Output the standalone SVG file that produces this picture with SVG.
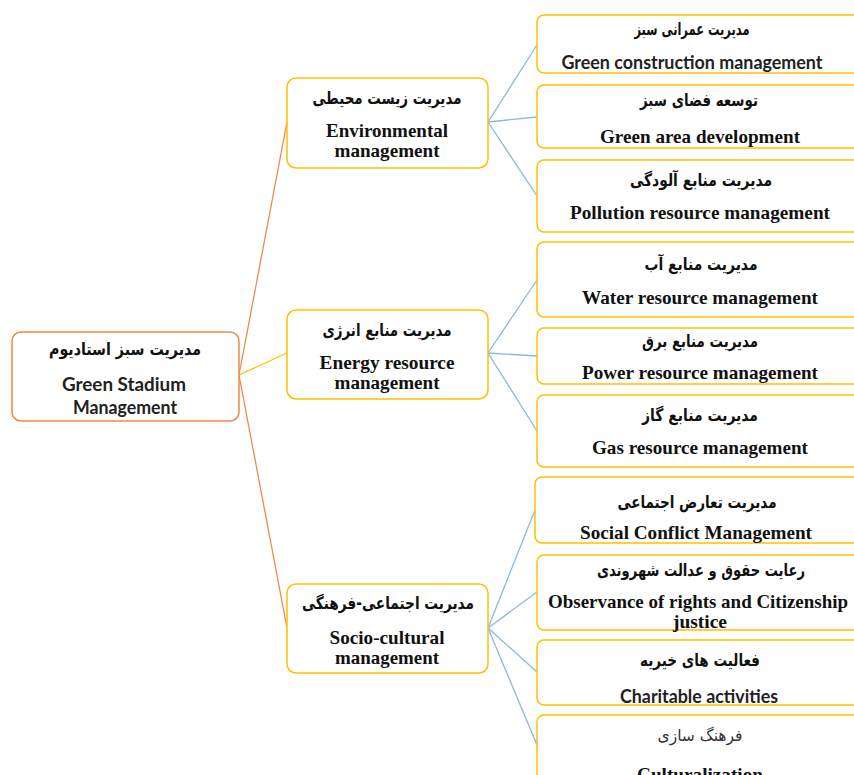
<svg xmlns="http://www.w3.org/2000/svg" width="854" height="775" viewBox="0 0 854 775">
<style>
.bg{fill:#ffffff}
.root{fill:#fff;stroke:#F08A4B;stroke-width:1.5}
.box{fill:#fff;stroke:#FFC000;stroke-width:1.5}
.fa{font-family:"DejaVu Sans",sans-serif;font-weight:bold;font-size:17px;fill:#111;text-anchor:middle}
.fa2{font-family:"DejaVu Sans",sans-serif;font-weight:normal;font-size:16px;fill:#333;text-anchor:middle}
.en{font-family:"Liberation Serif",serif;font-weight:bold;font-size:19px;fill:#111;text-anchor:middle}
.cb{font-family:Lato,"Liberation Sans",sans-serif;font-weight:bold;font-size:18px;fill:#222;text-anchor:middle}
.co{stroke:#F08A4B;stroke-width:1.3;fill:none}
.cy{stroke:#FFC000;stroke-width:1.3;fill:none}
.cbl{stroke:#8DB8E2;stroke-width:1.3;fill:none}
</style>
<rect class="bg" x="0" y="0" width="854" height="775"/>
<g id="connectors">
<line class="co" x1="239" y1="375" x2="287" y2="122"/>
<line class="cy" x1="239" y1="375" x2="287" y2="353"/>
<line class="co" x1="239" y1="375" x2="287" y2="628"/>
<line class="cbl" x1="488" y1="122" x2="537" y2="45"/>
<line class="cbl" x1="488" y1="122" x2="537" y2="117"/>
<line class="cbl" x1="488" y1="122" x2="537" y2="196"/>
<line class="cbl" x1="488" y1="353" x2="537" y2="280"/>
<line class="cbl" x1="488" y1="353" x2="537" y2="356"/>
<line class="cbl" x1="488" y1="353" x2="537" y2="431"/>
<line class="cbl" x1="488" y1="628" x2="535" y2="510"/>
<line class="cbl" x1="488" y1="628" x2="537" y2="592"/>
<line class="cbl" x1="488" y1="628" x2="537" y2="672"/>
<line class="cbl" x1="488" y1="628" x2="537" y2="745"/>
</g>
<g id="root">
<rect class="root" x="12" y="332" width="227" height="89" rx="9"/>
<text class="fa" x="125" y="355" textLength="152" lengthAdjust="spacingAndGlyphs">مدیریت سبز استادیوم</text>
<text class="cb" x="124" y="391" textLength="124" lengthAdjust="spacingAndGlyphs">Green Stadium</text>
<text class="cb" x="125" y="414" textLength="104" lengthAdjust="spacingAndGlyphs">Management</text>
</g>
<g id="env">
<rect class="box" x="287" y="78" width="201" height="90" rx="9"/>
<text class="fa" x="387" y="104" textLength="149" lengthAdjust="spacingAndGlyphs">مدیریت زیست محیطی</text>
<text class="en" x="387" y="137" textLength="122" lengthAdjust="spacingAndGlyphs">Environmental</text>
<text class="en" x="387" y="157" textLength="105" lengthAdjust="spacingAndGlyphs">management</text>
</g>
<g id="energy">
<rect class="box" x="287" y="310" width="201" height="89" rx="9"/>
<text class="fa" x="387" y="336" textLength="129" lengthAdjust="spacingAndGlyphs">مدیریت منابع انرژی</text>
<text class="en" x="387" y="369" textLength="135" lengthAdjust="spacingAndGlyphs">Energy resource</text>
<text class="en" x="387" y="389" textLength="105" lengthAdjust="spacingAndGlyphs">management</text>
</g>
<g id="socio">
<rect class="box" x="287" y="584" width="201" height="89" rx="9"/>
<text class="fa" x="388" y="609" textLength="172" lengthAdjust="spacingAndGlyphs">مدیریت اجتماعی-فرهنگی</text>
<text class="en" x="387" y="644" textLength="115" lengthAdjust="spacingAndGlyphs">Socio-cultural</text>
<text class="en" x="387" y="664" textLength="104" lengthAdjust="spacingAndGlyphs">management</text>
</g>
<g id="c1">
<rect class="box" x="537" y="15" width="330" height="58" rx="7"/>
<text class="fa" x="692" y="35" textLength="115" lengthAdjust="spacingAndGlyphs">مدیریت عمرانی سبز</text>
<text class="cb" x="692" y="69" textLength="261" lengthAdjust="spacingAndGlyphs">Green construction management</text>
</g>
<g id="c2">
<rect class="box" x="537" y="85" width="330" height="63" rx="7"/>
<text class="fa" x="699" y="106" textLength="118" lengthAdjust="spacingAndGlyphs">توسعه فضای سبز</text>
<text class="en" x="700" y="143" textLength="200" lengthAdjust="spacingAndGlyphs">Green area development</text>
</g>
<g id="c3">
<rect class="box" x="537" y="160" width="330" height="72" rx="7"/>
<text class="fa" x="701" y="186" textLength="142" lengthAdjust="spacingAndGlyphs">مدیریت منابع آلودگی</text>
<text class="en" x="700" y="219" textLength="260" lengthAdjust="spacingAndGlyphs">Pollution resource management</text>
</g>
<g id="c4">
<rect class="box" x="537" y="242" width="330" height="75" rx="7"/>
<text class="fa" x="701" y="270" textLength="113" lengthAdjust="spacingAndGlyphs">مدیریت منابع آب</text>
<text class="en" x="700" y="304" textLength="236" lengthAdjust="spacingAndGlyphs">Water resource management</text>
</g>
<g id="c5">
<rect class="box" x="537" y="328" width="330" height="56" rx="7"/>
<text class="fa" x="700" y="347" textLength="116" lengthAdjust="spacingAndGlyphs">مدیریت منابع برق</text>
<text class="en" x="700" y="379" textLength="236" lengthAdjust="spacingAndGlyphs">Power resource management</text>
</g>
<g id="c6">
<rect class="box" x="537" y="395" width="330" height="72" rx="7"/>
<text class="fa" x="700" y="421" textLength="116" lengthAdjust="spacingAndGlyphs">مدیریت منابع گاز</text>
<text class="en" x="700" y="454" textLength="216" lengthAdjust="spacingAndGlyphs">Gas resource management</text>
</g>
<g id="c7">
<rect class="box" x="535" y="477" width="332" height="66" rx="7"/>
<text class="fa" x="697" y="508" textLength="159" lengthAdjust="spacingAndGlyphs">مدیریت تعارض اجتماعی</text>
<text class="en" x="696" y="539" textLength="232" lengthAdjust="spacingAndGlyphs">Social Conflict Management</text>
</g>
<g id="c8">
<rect class="box" x="537" y="555" width="330" height="75" rx="7"/>
<text class="fa" x="701" y="576" font-size="16" textLength="208" lengthAdjust="spacingAndGlyphs">رعایت حقوق و عدالت شهروندی</text>
<text class="en" x="698" y="608" textLength="300" lengthAdjust="spacingAndGlyphs">Observance of rights and Citizenship</text>
<text class="en" x="700" y="628" textLength="54" lengthAdjust="spacingAndGlyphs">justice</text>
</g>
<g id="c9">
<rect class="box" x="537" y="640" width="330" height="65" rx="7"/>
<text class="fa" x="700" y="666" textLength="120" lengthAdjust="spacingAndGlyphs">فعالیت های خیریه</text>
<text class="cb" x="699" y="703" textLength="158" lengthAdjust="spacingAndGlyphs">Charitable activities</text>
</g>
<g id="c10">
<rect class="box" x="537" y="715" width="330" height="80" rx="7"/>
<text class="fa2" x="700" y="741" textLength="85" lengthAdjust="spacingAndGlyphs">فرهنگ سازی</text>
<text class="en" x="700" y="781" textLength="126" lengthAdjust="spacingAndGlyphs">Culturalization</text>
</g>
</svg>
